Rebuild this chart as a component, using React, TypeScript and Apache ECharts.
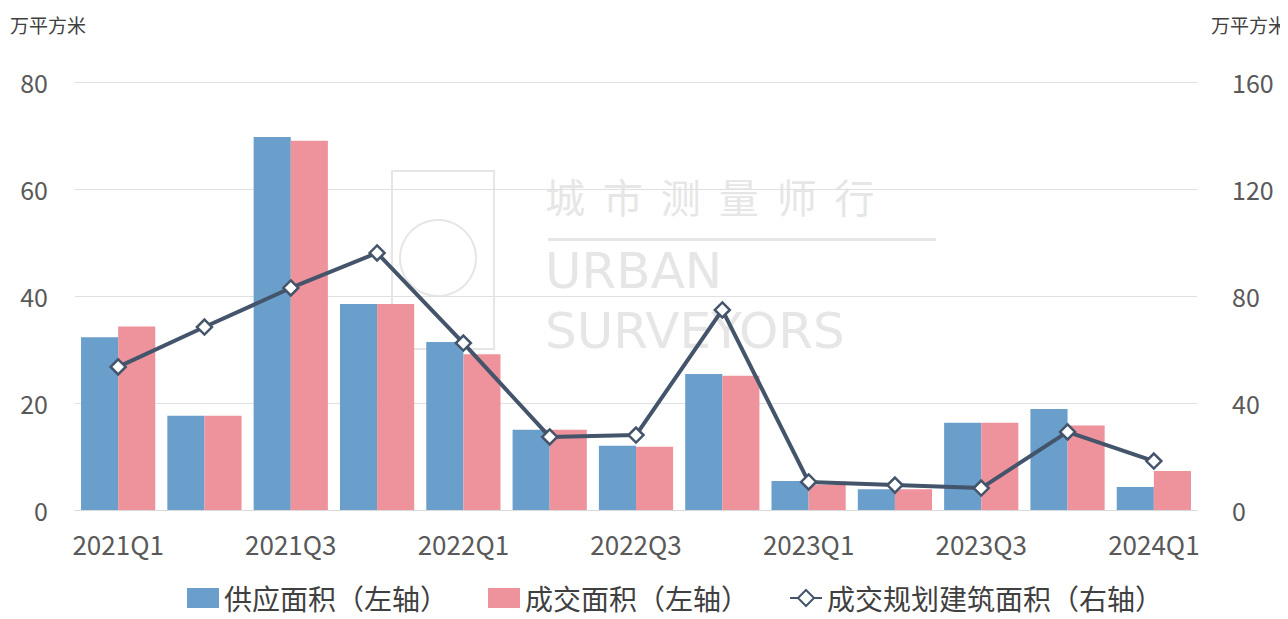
import React, { useEffect, useRef } from "react";
import * as echarts from "echarts";

const categories = ["2021Q1", "2021Q2", "2021Q3", "2021Q4", "2022Q1", "2022Q2", "2022Q3", "2022Q4", "2023Q1", "2023Q2", "2023Q3", "2023Q4", "2024Q1"];
const supplyArea = [32.3, 17.6, 69.7, 38.5, 31.4, 15.0, 12.0, 25.4, 5.4, 3.9, 16.3, 18.9, 4.3];
const dealArea = [34.3, 17.6, 69.0, 38.5, 29.1, 15.0, 11.8, 25.1, 4.7, 3.9, 16.3, 15.8, 7.3];
const dealGFA = [53.5, 68.4, 83.0, 96.1, 62.4, 27.3, 28.0, 74.8, 10.5, 9.3, 8.2, 29.2, 18.3];
const leftTicks = [0, 20, 40, 60, 80];
const rightTicks = [0, 40, 80, 120, 160];

const FONT = "'Noto Sans CJK SC', 'Noto Sans', sans-serif";

export default function App() {
  const ref = useRef<HTMLDivElement>(null);
  useEffect(() => {
    if (!ref.current) return;
    const chart = echarts.init(ref.current, undefined, { renderer: "svg" });
    const wm = "#e6e6e6";
    chart.setOption({
      animation: false,
      backgroundColor: "#ffffff",
      textStyle: { fontFamily: FONT },
      graphic: [
        { type: "text", left: 2, top: 7, style: { text: "万平方米", fontSize: 19, fill: "#404040", fontFamily: FONT } },
        { type: "text", right: 1, top: 7, style: { text: "万平方米", fontSize: 19, fill: "#404040", fontFamily: FONT } },
        {
          type: "group", z: -10, silent: true,
          children: [
            { type: "rect", shape: { x: 384, y: 163, width: 102, height: 178 }, style: { fill: "none", stroke: wm, lineWidth: 2 } },
            { type: "circle", shape: { cx: 430, cy: 250, r: 38 }, style: { fill: "none", stroke: wm, lineWidth: 2 } },
            { type: "text", x: 537, y: 168, style: { text: "城  市  测  量  师  行", fontSize: 40, fill: wm, fontFamily: FONT } },
            { type: "rect", shape: { x: 540, y: 230, width: 388, height: 3 }, style: { fill: wm } },
            { type: "text", x: 537, y: 238, style: { text: "URBAN", fontSize: 50, lineHeight: 50, fill: wm, fontFamily: "'DejaVu Sans', sans-serif" } },
            { type: "text", x: 537, y: 298, style: { text: "SURVEYORS", fontSize: 50, lineHeight: 50, fill: wm, fontFamily: "'DejaVu Sans', sans-serif" } },
          ],
        },
      ],
      legend: {
        top: 576,
        left: 179,
        padding: 0,
        itemGap: 40,
        itemWidth: 32,
        itemHeight: 20,
        textStyle: { fontSize: 28, lineHeight: 28, color: "#404040", fontFamily: FONT },
        data: [
          { name: "供应面积（左轴）", icon: "rect", itemStyle: { color: "#6a9ecb" } },
          { name: "成交面积（左轴）", icon: "rect", itemStyle: { color: "#ee929c" } },
          { name: "成交规划建筑面积（右轴）" },
        ],
      },
      grid: { left: 67, right: 91, top: 74, bottom: 109, containLabel: false },
      xAxis: {
        type: "category",
        data: categories,
        axisLine: { lineStyle: { color: "#d9d9d9", width: 1 } },
        axisTick: { show: false },
        axisLabel: { interval: 1, fontSize: 26, color: "#595959", margin: 20, fontFamily: FONT },
      },
      yAxis: [
        {
          type: "value", min: 0, max: 80, interval: 20,
          axisLine: { show: false }, axisTick: { show: false },
          axisLabel: { fontSize: 25, color: "#595959", margin: 27, fontFamily: FONT, customValues: leftTicks },
          splitLine: { lineStyle: { color: "#e0e0e0", width: 1 } },
        },
        {
          type: "value", min: 0, max: 160, interval: 40,
          axisLine: { show: false }, axisTick: { show: false },
          axisLabel: { fontSize: 25, color: "#595959", margin: 35, fontFamily: FONT, customValues: rightTicks },
          splitLine: { show: false },
        },
      ],
      series: [
        {
          name: "供应面积（左轴）", type: "bar", data: supplyArea, yAxisIndex: 0,
          itemStyle: { color: "#6a9ecb" }, barGap: "0%", barCategoryGap: "14%", z: 2,
        },
        {
          name: "成交面积（左轴）", type: "bar", data: dealArea, yAxisIndex: 0,
          itemStyle: { color: "#ee929c" }, barGap: "0%", barCategoryGap: "14%", z: 2,
        },
        {
          name: "成交规划建筑面积（右轴）", type: "line", data: dealGFA, yAxisIndex: 1,
          symbol: "diamond", symbolSize: 15, z: 5,
          lineStyle: { color: "#44546a", width: 4 },
          itemStyle: { color: "#ffffff", borderColor: "#44546a", borderWidth: 2.5 },
        },
      ],
    });
    return () => chart.dispose();
  }, []);
  return <div ref={ref} style={{ width: 1280, height: 611 }} />;
}
